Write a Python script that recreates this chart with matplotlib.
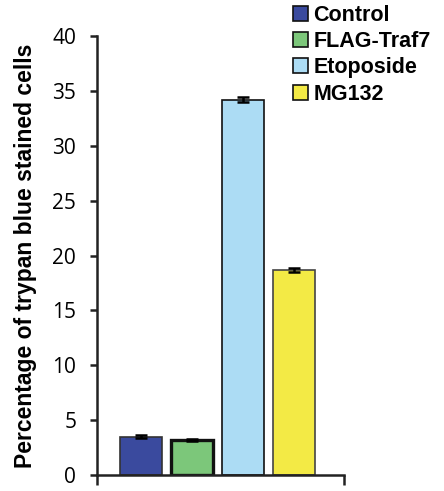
import numpy as np
import matplotlib.pyplot as plt
from matplotlib.patches import Patch

# Data
groups = ['Control', 'FLAG-Traf7', 'Etoposide', 'MG132']
values = [3.5, 3.2, 34.2, 18.7]
errors = [0.15, 0.12, 0.2, 0.2]
colors = ['#3a4a9e', '#7cc77a', '#acdcf4', '#f3ea45']
edges = ['#333333', '#111111', '#111111', '#444444']
edge_widths = [1.2, 2.4, 1.2, 1.2]
yticks = [0, 5, 10, 15, 20, 25, 30, 35, 40]

fig = plt.figure(figsize=(4.44, 4.91), dpi=100)
ax = fig.add_axes([0.2185, 0.0326, 0.556, 0.894])

x = np.arange(len(groups))
for i in range(len(groups)):
    ax.bar(x[i], values[i], width=0.82, color=colors[i], edgecolor=edges[i],
           linewidth=edge_widths[i], zorder=2)
ax.errorbar(x, values, yerr=errors, fmt='none', ecolor='black',
            elinewidth=1.8, capsize=4, capthick=1.8, zorder=3)

ax.set_xlim(-0.86, 3.98)
ax.set_ylim(0, 40)

# axes styling
for s in ['top', 'right']:
    ax.spines[s].set_visible(False)
for s in ['left', 'bottom']:
    ax.spines[s].set_color('#222222')
    ax.spines[s].set_linewidth(1.8)

ax.set_yticks(yticks)
ax.set_yticklabels([str(t) for t in yticks], fontfamily='Open Sans', fontsize=15)
ax.tick_params(axis='y', direction='out', length=5, width=1.8, color='#222222', pad=10)

# category axis only has boundary ticks
ax.set_xticks([-0.86, 3.98])
ax.set_xticklabels(['', ''])
ax.tick_params(axis='x', direction='out', length=7, width=1.8, color='#222222')

ax.set_ylabel('Percentage of trypan blue stained cells', fontfamily='Liberation Sans',
              fontweight='bold', fontsize=16.5, labelpad=11)

handles = [Patch(facecolor=colors[i], edgecolor='#111111', linewidth=1.2)
           for i in range(len(groups))]
fig.legend(handles, groups, loc='upper left', bbox_to_anchor=(0.655, 0.995),
           frameon=False, prop={'family': 'Liberation Sans', 'weight': 'bold', 'size': 15.5},
           handlelength=0.7, handleheight=0.7, handletextpad=0.25, labelspacing=0.25,
           borderaxespad=0, borderpad=0.1)

fig.savefig('out.png', dpi=100)
